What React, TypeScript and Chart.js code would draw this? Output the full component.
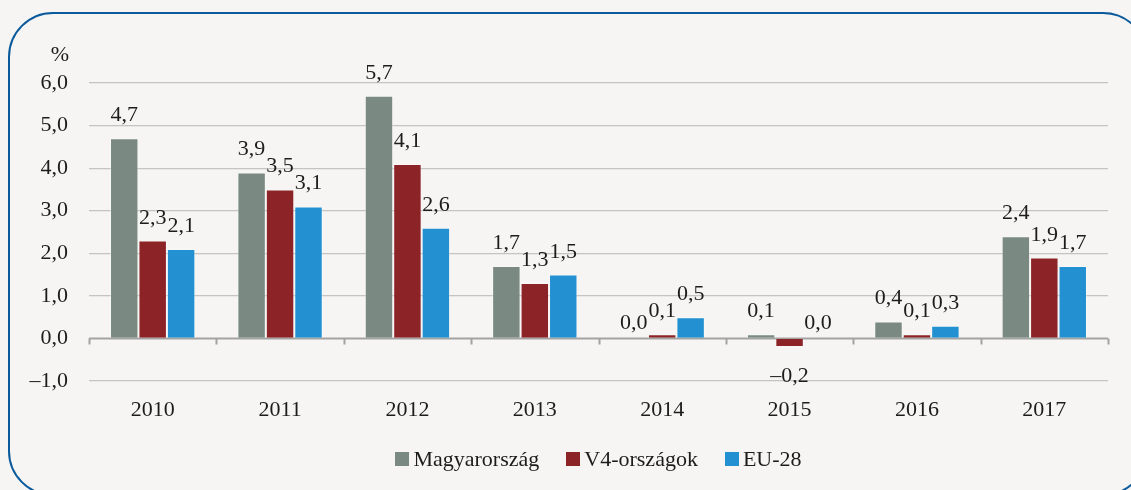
import React, { useEffect, useRef } from "react";
import { Chart, registerables } from "chart.js";

Chart.register(...registerables);

const categories = ["2010", "2011", "2012", "2013", "2014", "2015", "2016", "2017"];
const seriesNames = ["Magyarország", "V4-országok", "EU-28"];
const hungary = [4.7, 3.9, 5.7, 1.7, 0.0, 0.1, 0.4, 2.4];
const v4 = [2.3, 3.5, 4.1, 1.3, 0.1, -0.2, 0.1, 1.9];
const eu28 = [2.1, 3.1, 2.6, 1.5, 0.5, 0.0, 0.3, 1.7];
const colors = ["#7a8a83", "#8b2327", "#2391d1"];
const yMin = -1;
const yMax = 6;
const unitLabel = "%";

const FONT = "'Liberation Serif', 'DejaVu Serif', serif";
const TEXT = "#1c1c1c";
const FS = 22;

const fmt = (v: number) => (v < 0 ? "\u2013" : "") + Math.abs(v).toFixed(1).replace(".", ",");

const decorPlugin = {
  id: "decor",
  beforeDatasetsDraw(chart: any) {
    const { ctx, chartArea, scales } = chart;
    const y0 = scales.y.getPixelForValue(0);
    ctx.save();
    ctx.strokeStyle = "#a3a3a3";
    ctx.lineWidth = 2;
    ctx.beginPath();
    ctx.moveTo(chartArea.left, y0);
    ctx.lineTo(chartArea.right, y0);
    const n = categories.length;
    const w = (chartArea.right - chartArea.left) / n;
    for (let i = 0; i <= n; i++) {
      const x = Math.round(chartArea.left + i * w) + 0.5;
      ctx.moveTo(x, y0);
      ctx.lineTo(x, y0 + 6);
    }
    ctx.stroke();
    ctx.restore();
  },
  afterDatasetsDraw(chart: any) {
    const { ctx, chartArea } = chart;
    ctx.save();
    ctx.font = FS + "px " + FONT;
    ctx.fillStyle = TEXT;
    ctx.textAlign = "center";
    chart.data.datasets.forEach((ds: any, di: number) => {
      const meta = chart.getDatasetMeta(di);
      meta.data.forEach((bar: any, i: number) => {
        const v = ds.data[i];
        if (v < 0) {
          ctx.textBaseline = "top";
          ctx.fillText(fmt(v), bar.x, bar.y + 18);
        } else {
          ctx.textBaseline = "alphabetic";
          ctx.fillText(fmt(v), bar.x, bar.y - (v === 0 ? 9 : 17));
        }
      });
    });
    ctx.textAlign = "center";
    ctx.textBaseline = "middle";
    ctx.fillText(unitLabel, chartArea.left - 29, chartArea.top - 28);
    ctx.restore();
  },
};

export default function App() {
  const ref = useRef<HTMLCanvasElement>(null);
  useEffect(() => {
    const values = [hungary, v4, eu28];
    const chart = new Chart(ref.current!, {
      type: "bar",
      data: {
        labels: categories,
        datasets: seriesNames.map((name, i) => ({
          label: name,
          data: values[i],
          backgroundColor: colors[i],
          borderColor: "rgba(255,255,255,0.35)",
          borderWidth: 1,
          barPercentage: 1,
          categoryPercentage: 0.67,
        })),
      },
      options: {
        responsive: false,
        animation: false,
        devicePixelRatio: 1,
        layout: { padding: { left: 0, right: 23, top: 83, bottom: 0 } },
        plugins: { legend: { display: false }, tooltip: { enabled: false } },
        scales: {
          x: {
            grid: { display: false, drawTicks: false },
            border: { display: false },
            ticks: { color: TEXT, font: { family: FONT, size: FS }, padding: 16 },
            afterFit: (s: any) => { s.height = 109; },
          },
          y: {
            min: yMin,
            max: yMax,
            ticks: {
              stepSize: 1,
              color: TEXT,
              font: { family: FONT, size: FS },
              padding: 21,
              callback: (v: any) => fmt(Number(v)),
            },
            grid: {
              color: (c: any) => (c.tick && c.tick.value === 0 ? "rgba(0,0,0,0)" : "#c4c4c4"),
              lineWidth: 1.2,
              drawTicks: false,
            },
            border: { display: false },
            afterFit: (s: any) => { s.width = 89; },
          },
        },
      },
      plugins: [decorPlugin],
    });
    return () => chart.destroy();
  }, []);

  return (
    <div style={{ position: "fixed", left: 0, top: 0, width: 1131, height: 490, background: "#f6f5f3", overflow: "hidden", fontFamily: FONT }}>
      <div style={{ position: "absolute", left: 8, top: 12, width: 1140, height: 484, boxSizing: "border-box", border: "2px solid #0b5b9c", borderRadius: 45 }} />
      <canvas ref={ref} width={1131} height={490} style={{ position: "absolute", left: 0, top: 0 }} />
      <div style={{ position: "absolute", left: 89, width: 1019, top: 446, display: "flex", justifyContent: "center", gap: 27, fontSize: FS, color: TEXT }}>
        {seriesNames.map((n, i) => (
          <div key={n} style={{ display: "flex", alignItems: "center", gap: 4 }}>
            <span style={{ display: "inline-block", width: 14, height: 14, background: colors[i] }} />
            <span>{n}</span>
          </div>
        ))}
      </div>
    </div>
  );
}
